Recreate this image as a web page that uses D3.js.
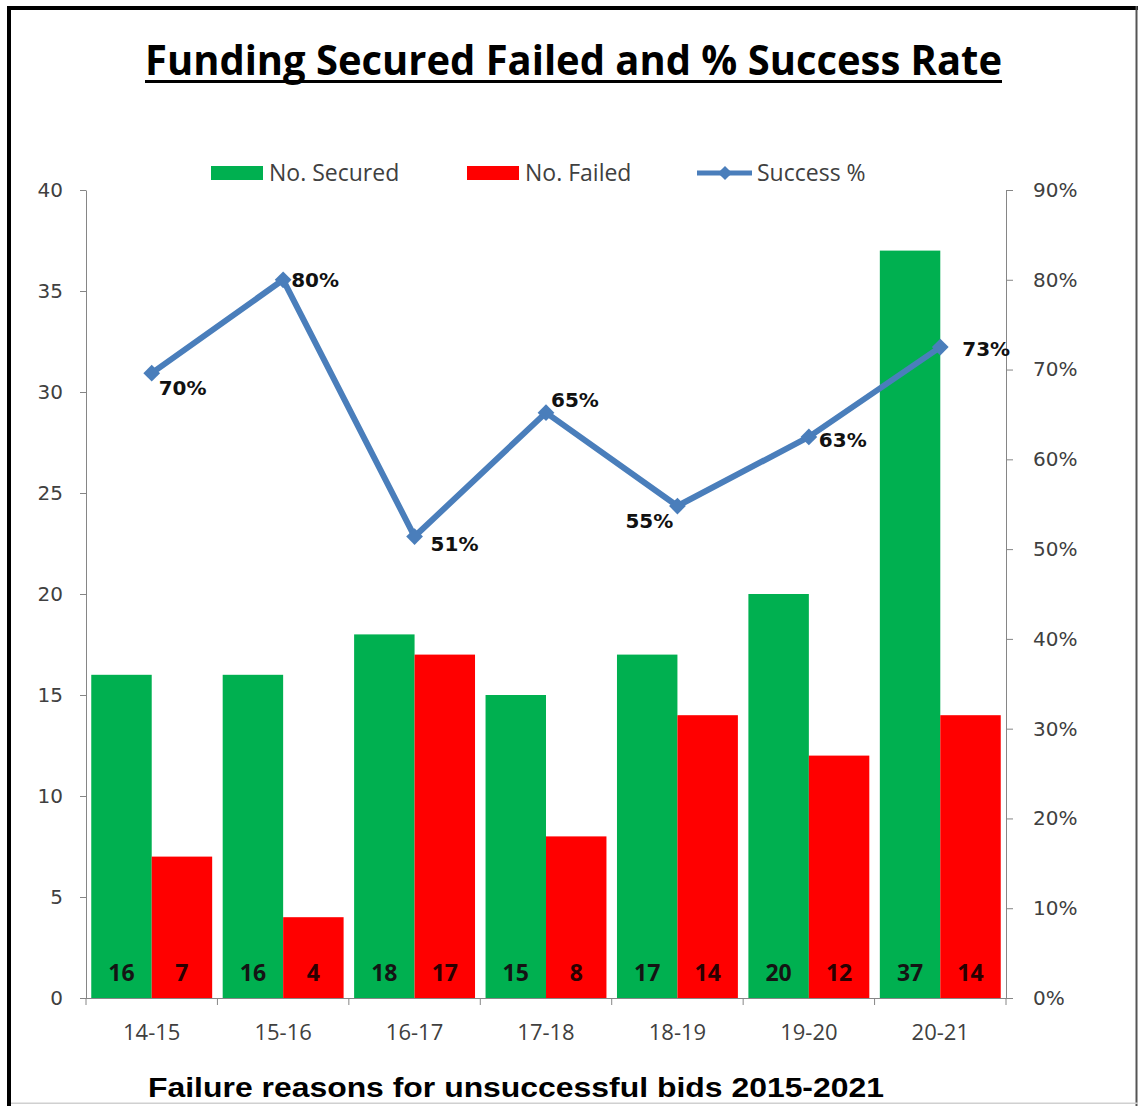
<!DOCTYPE html>
<html>
<head>
<meta charset="utf-8">
<script src="https://cdn.jsdelivr.net/npm/d3@7"></script>
<style>
  html, body { margin: 0; padding: 0; background: #fff; }
  svg { display: block; }
</style>
</head>
<body>
<div id="chart"></div>
<script>
const categories = ["14-15", "15-16", "16-17", "17-18", "18-19", "19-20", "20-21"];
const secured = [16, 16, 18, 15, 17, 20, 37];
const failed = [7, 4, 17, 8, 14, 12, 14];
const successRate = [0.696, 0.80, 0.514, 0.652, 0.548, 0.625, 0.725];
const successLabels = ["70%", "80%", "51%", "65%", "55%", "63%", "73%"];
const leftTicks = [0, 5, 10, 15, 20, 25, 30, 35, 40];
const rightTicks = [0, 0.1, 0.2, 0.3, 0.4, 0.5, 0.6, 0.7, 0.8, 0.9];
const seriesNames = ["No. Secured", "No. Failed", "Success %"];
const titleText = "Funding Secured Failed and % Success Rate";
const footText = "Failure reasons for unsuccessful bids 2015-2021";

// label placement (styling): [dx to text start, dy to baseline]
const labelOffsets = [[7, 22], [8, 7], [16, 14], [5, -6], [-52, 22], [10, 10], [22, 9]];

(function () {
const W = 1138, H = 1106;
const GREEN = "#00b050", RED = "#ff0000", BLUE = "#4a7ebb", AXIS = "#868686", TXT = "#404040";

const svg = d3.select("#chart").append("svg").attr("width", W).attr("height", H);

// frame
svg.append("rect").attr("x", 0).attr("y", 0).attr("width", W).attr("height", H).attr("fill", "#fff");
svg.append("rect").attr("x", 7).attr("y", 6).attr("width", W - 7).attr("height", 4).attr("fill", "#000");
svg.append("rect").attr("x", 7).attr("y", 6).attr("width", 4).attr("height", H - 6).attr("fill", "#000");
svg.append("rect").attr("x", 1135.5).attr("y", 6).attr("width", 2).attr("height", H - 6).attr("fill", "#555");
svg.append("rect").attr("x", 11).attr("y", 1102.5).attr("width", W - 11).attr("height", 1.5).attr("fill", "#d0d0d0");

const pLeft = 86, pRight = 1006, pTop = 190, pBottom = 998;

const x = d3.scaleBand().domain(categories).range([pLeft, pRight]).paddingInner(0.08).paddingOuter(0.04);
const x1 = d3.scaleBand().domain(["secured", "failed"]).range([0, x.bandwidth()]);
const yL = d3.scaleLinear().domain([0, 40]).range([pBottom, pTop]);
const yR = d3.scaleLinear().domain([0, 0.9]).range([pBottom, pTop]);

// title
svg.append("text").attr("x", 145).attr("y", 75)
  .attr("font-family", "Open Sans, sans-serif").attr("font-weight", "bold").attr("font-size", 41)
  .attr("fill", "#000").attr("textLength", 857).attr("lengthAdjust", "spacingAndGlyphs")
  .text(titleText);
svg.append("rect").attr("x", 145).attr("y", 80).attr("width", 857).attr("height", 3).attr("fill", "#000");

// bars
const rows = categories.map((c, i) => ({ cat: c, secured: secured[i], failed: failed[i] }));
const groups = svg.append("g").selectAll("g").data(rows).join("g")
  .attr("transform", d => `translate(${x(d.cat)},0)`);
groups.append("rect").attr("x", x1("secured")).attr("width", x1.bandwidth())
  .attr("y", d => yL(d.secured)).attr("height", d => yL(0) - yL(d.secured)).attr("fill", GREEN);
groups.append("rect").attr("x", x1("failed")).attr("width", x1.bandwidth())
  .attr("y", d => yL(d.failed)).attr("height", d => yL(0) - yL(d.failed)).attr("fill", RED);
groups.append("text").attr("x", x1("secured") + x1.bandwidth() / 2).attr("y", 981)
  .attr("text-anchor", "middle").attr("font-family", "Open Sans, sans-serif").attr("font-weight", "bold")
  .attr("font-size", 23).attr("fill", "#141414").text(d => d.secured);
groups.append("text").attr("x", x1("failed") + x1.bandwidth() / 2).attr("y", 981)
  .attr("text-anchor", "middle").attr("font-family", "Open Sans, sans-serif").attr("font-weight", "bold")
  .attr("font-size", 23).attr("fill", "#2a0000").text(d => d.failed);

// axes
const axL = svg.append("g").attr("transform", `translate(${pLeft},0)`)
  .call(d3.axisLeft(yL).tickValues(leftTicks).tickSize(6).tickSizeOuter(0).tickPadding(17));
const axR = svg.append("g").attr("transform", `translate(${pRight},0)`)
  .call(d3.axisRight(yR).tickValues(rightTicks).tickSize(7).tickSizeOuter(0).tickPadding(20).tickFormat(d3.format(".0%")));
[axL, axR].forEach(a => {
  a.selectAll("path, line").attr("stroke", AXIS);
  a.selectAll("text").attr("font-family", "DejaVu Sans, sans-serif").attr("font-size", 20).attr("fill", TXT);
});
const axB = svg.append("g").attr("transform", `translate(0,${pBottom})`)
  .call(d3.axisBottom(x).tickSize(0).tickPadding(26));
axB.select(".domain").attr("stroke", AXIS).attr("d", `M${pLeft},0.5H${pRight}`);
axB.selectAll("text").attr("font-family", "Open Sans, sans-serif").attr("font-size", 22).attr("fill", TXT);
// category boundary ticks
const bounds = d3.range(categories.length + 1).map(i => pLeft + i * x.step());
svg.append("g").selectAll("line").data(bounds).join("line")
  .attr("x1", d => d).attr("x2", d => d).attr("y1", pBottom).attr("y2", pBottom + 7)
  .attr("stroke", AXIS);

// success line
const pts = categories.map((c, i) => ({ cat: c, v: successRate[i], label: successLabels[i], off: labelOffsets[i] }));
const cx = d => x(d.cat) + x.bandwidth() / 2;
svg.append("path").datum(pts)
  .attr("d", d3.line().x(cx).y(d => yR(d.v)))
  .attr("fill", "none").attr("stroke", BLUE).attr("stroke-width", 6).attr("stroke-linejoin", "round");
svg.append("g").selectAll("path").data(pts).join("path")
  .attr("d", d3.symbol(d3.symbolSquare, 140))
  .attr("transform", d => `translate(${cx(d)},${yR(d.v)}) rotate(45)`)
  .attr("fill", BLUE);
svg.append("g").selectAll("text").data(pts).join("text")
  .attr("x", d => cx(d) + d.off[0]).attr("y", d => yR(d.v) + d.off[1])
  .attr("font-family", "DejaVu Sans, sans-serif").attr("font-weight", "bold").attr("font-size", 20)
  .attr("fill", "#111").text(d => d.label);

// legend
const lg = svg.append("g").attr("font-family", "Open Sans, sans-serif").attr("font-size", 23).attr("fill", TXT);
lg.append("rect").attr("x", 211).attr("y", 166).attr("width", 52).attr("height", 14).attr("fill", GREEN);
lg.append("text").attr("x", 269).attr("y", 181).text(seriesNames[0]);
lg.append("rect").attr("x", 467).attr("y", 166).attr("width", 52).attr("height", 14).attr("fill", RED);
lg.append("text").attr("x", 525).attr("y", 181).text(seriesNames[1]);
lg.append("line").attr("x1", 697).attr("x2", 752).attr("y1", 173).attr("y2", 173)
  .attr("stroke", BLUE).attr("stroke-width", 5);
lg.append("path").attr("d", d3.symbol(d3.symbolSquare, 100)).attr("transform", "translate(725,173) rotate(45)").attr("fill", BLUE);
lg.append("text").attr("x", 757).attr("y", 181).text(seriesNames[2]);

// footer
svg.append("text").attr("x", 148).attr("y", 1097)
  .attr("font-family", "Liberation Sans, Arial, sans-serif").attr("font-weight", "bold").attr("font-size", 27)
  .attr("fill", "#000").attr("textLength", 736).attr("lengthAdjust", "spacingAndGlyphs")
  .text(footText);
})();
</script>
</body>
</html>
